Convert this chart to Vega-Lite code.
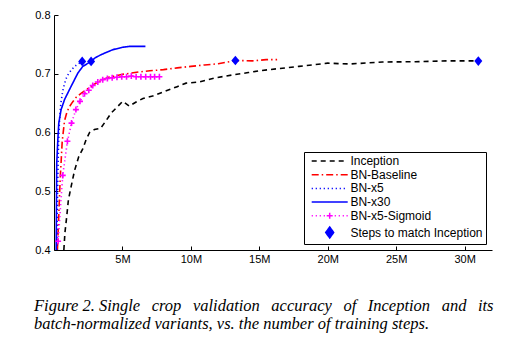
{
  "$schema": "https://vega.github.io/schema/vega-lite/v6.json",
  "autosize": "none",
  "width": 438,
  "height": 235,
  "padding": {"left": 54, "top": 15, "right": 26, "bottom": 106},
  "background": "white",
  "title": {
    "text": ["Figure 2. Single \u00a0\u2009crop \u00a0\u2009validation \u00a0\u2009accuracy \u00a0\u2009of \u00a0\u2009Inception \u00a0\u2009and \u00a0\u2009its", "batch-normalized variants, vs. the number of training steps."],
    "orient": "bottom",
    "anchor": "start",
    "frame": "group",
    "dx": -20,
    "offset": 33.5,
    "font": "Liberation Serif",
    "fontSize": 16.5,
    "fontStyle": "italic",
    "fontWeight": "normal",
    "color": "black",
    "lineHeight": 18
  },
  "config": {
    "view": {"stroke": null},
    "axis": {
      "domainColor": "black",
      "tickColor": "black",
      "labelColor": "black",
      "labelFont": "Liberation Sans",
      "labelFontSize": 11,
      "grid": false,
      "title": null,
      "tickSize": -4,
      "labelPadding": 8,
      "labelFlush": false,
      "domainWidth": 1,
      "tickWidth": 1
    }
  },
  "data": {
    "values": [
      {"s": "Inception", "x": 0.72, "y": 0.40},
      {"s": "Inception", "x": 0.8, "y": 0.43},
      {"s": "Inception", "x": 0.93, "y": 0.457},
      {"s": "Inception", "x": 1.05, "y": 0.485},
      {"s": "Inception", "x": 1.25, "y": 0.508},
      {"s": "Inception", "x": 1.5, "y": 0.535},
      {"s": "Inception", "x": 1.81, "y": 0.559},
      {"s": "Inception", "x": 2.1, "y": 0.572},
      {"s": "Inception", "x": 2.35, "y": 0.588},
      {"s": "Inception", "x": 2.6, "y": 0.6},
      {"s": "Inception", "x": 2.95, "y": 0.605},
      {"s": "Inception", "x": 3.4, "y": 0.607},
      {"s": "Inception", "x": 3.8, "y": 0.62},
      {"s": "Inception", "x": 4.17, "y": 0.633},
      {"s": "Inception", "x": 4.6, "y": 0.643},
      {"s": "Inception", "x": 5.02, "y": 0.653},
      {"s": "Inception", "x": 5.5, "y": 0.645},
      {"s": "Inception", "x": 6.0, "y": 0.652},
      {"s": "Inception", "x": 6.5, "y": 0.658},
      {"s": "Inception", "x": 7.2, "y": 0.662},
      {"s": "Inception", "x": 8.2, "y": 0.671},
      {"s": "Inception", "x": 9.0, "y": 0.678},
      {"s": "Inception", "x": 9.65, "y": 0.684},
      {"s": "Inception", "x": 10.6, "y": 0.686},
      {"s": "Inception", "x": 11.8, "y": 0.693},
      {"s": "Inception", "x": 13.05, "y": 0.698},
      {"s": "Inception", "x": 14.2, "y": 0.702},
      {"s": "Inception", "x": 15.0, "y": 0.705},
      {"s": "Inception", "x": 15.73, "y": 0.707},
      {"s": "Inception", "x": 17.9, "y": 0.7125},
      {"s": "Inception", "x": 20.0, "y": 0.718},
      {"s": "Inception", "x": 21.6, "y": 0.7166},
      {"s": "Inception", "x": 24.0, "y": 0.72},
      {"s": "Inception", "x": 26.4, "y": 0.7205},
      {"s": "Inception", "x": 28.9, "y": 0.722},
      {"s": "Inception", "x": 31.0, "y": 0.722},
      {"s": "BN-Baseline", "x": 0.25, "y": 0.40},
      {"s": "BN-Baseline", "x": 0.35, "y": 0.46},
      {"s": "BN-Baseline", "x": 0.45, "y": 0.52},
      {"s": "BN-Baseline", "x": 0.52, "y": 0.55},
      {"s": "BN-Baseline", "x": 0.6, "y": 0.585},
      {"s": "BN-Baseline", "x": 0.77, "y": 0.62},
      {"s": "BN-Baseline", "x": 0.95, "y": 0.635},
      {"s": "BN-Baseline", "x": 1.13, "y": 0.644},
      {"s": "BN-Baseline", "x": 1.3, "y": 0.65},
      {"s": "BN-Baseline", "x": 1.62, "y": 0.66},
      {"s": "BN-Baseline", "x": 2.0, "y": 0.667},
      {"s": "BN-Baseline", "x": 2.5, "y": 0.675},
      {"s": "BN-Baseline", "x": 3.0, "y": 0.683},
      {"s": "BN-Baseline", "x": 3.5, "y": 0.689},
      {"s": "BN-Baseline", "x": 4.0, "y": 0.694},
      {"s": "BN-Baseline", "x": 5.0, "y": 0.699},
      {"s": "BN-Baseline", "x": 6.2, "y": 0.703},
      {"s": "BN-Baseline", "x": 7.0, "y": 0.705},
      {"s": "BN-Baseline", "x": 8.0, "y": 0.707},
      {"s": "BN-Baseline", "x": 9.0, "y": 0.71},
      {"s": "BN-Baseline", "x": 10.0, "y": 0.7125},
      {"s": "BN-Baseline", "x": 11.0, "y": 0.715},
      {"s": "BN-Baseline", "x": 12.0, "y": 0.717},
      {"s": "BN-Baseline", "x": 13.25, "y": 0.7225},
      {"s": "BN-Baseline", "x": 14.5, "y": 0.722},
      {"s": "BN-Baseline", "x": 15.5, "y": 0.724},
      {"s": "BN-Baseline", "x": 16.3, "y": 0.724},
      {"s": "BN-x5", "x": 0.2, "y": 0.40},
      {"s": "BN-x5", "x": 0.26, "y": 0.5},
      {"s": "BN-x5", "x": 0.33, "y": 0.58},
      {"s": "BN-x5", "x": 0.4, "y": 0.62},
      {"s": "BN-x5", "x": 0.5, "y": 0.65},
      {"s": "BN-x5", "x": 0.65, "y": 0.672},
      {"s": "BN-x5", "x": 0.85, "y": 0.69},
      {"s": "BN-x5", "x": 1.08, "y": 0.701},
      {"s": "BN-x5", "x": 1.5, "y": 0.7125},
      {"s": "BN-x5", "x": 2.06, "y": 0.721},
      {"s": "BN-x30", "x": 0.16, "y": 0.40},
      {"s": "BN-x30", "x": 0.18, "y": 0.48},
      {"s": "BN-x30", "x": 0.2, "y": 0.548},
      {"s": "BN-x30", "x": 0.28, "y": 0.588},
      {"s": "BN-x30", "x": 0.35, "y": 0.616},
      {"s": "BN-x30", "x": 0.52, "y": 0.639},
      {"s": "BN-x30", "x": 0.77, "y": 0.656},
      {"s": "BN-x30", "x": 1.13, "y": 0.673},
      {"s": "BN-x30", "x": 1.5, "y": 0.69},
      {"s": "BN-x30", "x": 1.74, "y": 0.701},
      {"s": "BN-x30", "x": 2.1, "y": 0.7125},
      {"s": "BN-x30", "x": 2.71, "y": 0.721},
      {"s": "BN-x30", "x": 3.0, "y": 0.727},
      {"s": "BN-x30", "x": 3.44, "y": 0.7325},
      {"s": "BN-x30", "x": 4.3, "y": 0.741},
      {"s": "BN-x30", "x": 5.0, "y": 0.745},
      {"s": "BN-x30", "x": 5.5, "y": 0.7466},
      {"s": "BN-x30", "x": 6.0, "y": 0.7466},
      {"s": "BN-x30", "x": 6.68, "y": 0.7466},
      {"s": "BN-x5-Sigmoid", "x": 0.3, "y": 0.415},
      {"s": "BN-x5-Sigmoid", "x": 0.64, "y": 0.527},
      {"s": "BN-x5-Sigmoid", "x": 0.98, "y": 0.585},
      {"s": "BN-x5-Sigmoid", "x": 1.28, "y": 0.616},
      {"s": "BN-x5-Sigmoid", "x": 1.6, "y": 0.639},
      {"s": "BN-x5-Sigmoid", "x": 1.9, "y": 0.653},
      {"s": "BN-x5-Sigmoid", "x": 2.23, "y": 0.666},
      {"s": "BN-x5-Sigmoid", "x": 2.54, "y": 0.672},
      {"s": "BN-x5-Sigmoid", "x": 2.83, "y": 0.68},
      {"s": "BN-x5-Sigmoid", "x": 3.2, "y": 0.686},
      {"s": "BN-x5-Sigmoid", "x": 3.56, "y": 0.69},
      {"s": "BN-x5-Sigmoid", "x": 3.9, "y": 0.692},
      {"s": "BN-x5-Sigmoid", "x": 4.25, "y": 0.693},
      {"s": "BN-x5-Sigmoid", "x": 4.6, "y": 0.694},
      {"s": "BN-x5-Sigmoid", "x": 4.95, "y": 0.695},
      {"s": "BN-x5-Sigmoid", "x": 5.3, "y": 0.695},
      {"s": "BN-x5-Sigmoid", "x": 5.65, "y": 0.696},
      {"s": "BN-x5-Sigmoid", "x": 6.0, "y": 0.695},
      {"s": "BN-x5-Sigmoid", "x": 6.35, "y": 0.695},
      {"s": "BN-x5-Sigmoid", "x": 6.7, "y": 0.695},
      {"s": "BN-x5-Sigmoid", "x": 7.05, "y": 0.695},
      {"s": "BN-x5-Sigmoid", "x": 7.35, "y": 0.695},
      {"s": "BN-x5-Sigmoid", "x": 7.7, "y": 0.695},
      {"s": "Steps to match Inception", "x": 2.06, "y": 0.721},
      {"s": "Steps to match Inception", "x": 2.71, "y": 0.721},
      {"s": "Steps to match Inception", "x": 13.25, "y": 0.7225},
      {"s": "Steps to match Inception", "x": 31.0, "y": 0.7215}
    ]
  },
  "encoding": {
    "x": {
      "field": "x",
      "type": "quantitative",
      "scale": {"domain": [0, 32], "nice": false, "zero": false},
      "axis": {"values": [5, 10, 15, 20, 25, 30], "labelExpr": "datum.value + 'M'", "labelPadding": 7}
    },
    "y": {
      "field": "y",
      "type": "quantitative",
      "scale": {"domain": [0.4, 0.8], "nice": false, "zero": false},
      "axis": {"values": [0.4, 0.5, 0.6, 0.7, 0.8], "format": ".1f"}
    }
  },
  "layer": [
    {
      "transform": [{"filter": "datum.s !== 'Steps to match Inception'"}],
      "mark": {"type": "line", "strokeWidth": 1.6, "clip": true},
      "encoding": {
        "color": {
          "field": "s",
          "type": "nominal",
          "scale": {
            "domain": ["Inception", "BN-Baseline", "BN-x5", "BN-x30", "BN-x5-Sigmoid", "Steps to match Inception"],
            "range": ["#000000", "#ff0000", "#0000ff", "#0000ff", "#ff00ff", "#0000ff"]
          },
          "legend": {
            "title": null,
            "orient": "bottom-right",
            "offset": 6,
            "strokeColor": "black",
            "fillColor": "white",
            "padding": 3,
            "cornerRadius": 0,
            "labelFont": "Liberation Sans",
            "labelFontSize": 12,
            "labelColor": "black",
            "symbolSize": 100,
            "symbolStrokeWidth": 1.5,
            "symbolOffset": 16.7,
            "labelOffset": 14.7,
            "rowPadding": 1.7,
            "encode": {
              "symbols": {
                "update": {
                  "shape": {"signal": "datum.value === 'Steps to match Inception' ? 'M0,-1.1L0.8,0L0,1.1L-0.8,0Z' : datum.value === 'BN-x5-Sigmoid' ? 'M-3.6,0h0.24M-2.8,0h0.24M-2,0h0.24M-1.2,0h0.24M1,0h0.24M1.8,0h0.24M2.6,0h0.24M3.36,0h0.24M-0.6,0L0.6,0M0,-0.6L0,0.6' : 'M-3.6,0L3.6,0'"},
                  "strokeDash": {"signal": "datum.value === 'Inception' ? [5,4] : datum.value === 'BN-Baseline' ? [7,3,1.5,3] : datum.value === 'BN-x5' ? [1.2,2.8] : [1,0]"},
                  "fill": {"signal": "datum.value === 'Steps to match Inception' ? '#0000ff' : 'transparent'"},
                  "stroke": {"signal": "scale('color', datum.value)"},
                  "strokeWidth": {"value": 1.5},
                  "opacity": {"value": 1}
                }
              }
            }
          }
        },
        "strokeDash": {
          "field": "s",
          "type": "nominal",
          "scale": {
            "domain": ["Inception", "BN-Baseline", "BN-x5", "BN-x30", "BN-x5-Sigmoid"],
            "range": [[5, 4], [7, 3, 1.5, 3], [1.2, 2.8], [1, 0], [1.2, 2.8]]
          },
          "legend": null
        }
      }
    },
    {
      "transform": [{"filter": "datum.s === 'BN-x5-Sigmoid'"}],
      "mark": {"type": "point", "shape": "M-1,0L1,0M0,-1L0,1", "size": 36, "filled": false, "color": "#ff00ff", "strokeWidth": 1.6, "opacity": 1}
    },
    {
      "transform": [{"filter": "datum.s === 'Steps to match Inception'"}],
      "mark": {"type": "point", "shape": "M0,-1.2L1,0L0,1.2L-1,0Z", "size": 64, "filled": true, "color": "#0000ff", "opacity": 1}
    }
  ]
}
